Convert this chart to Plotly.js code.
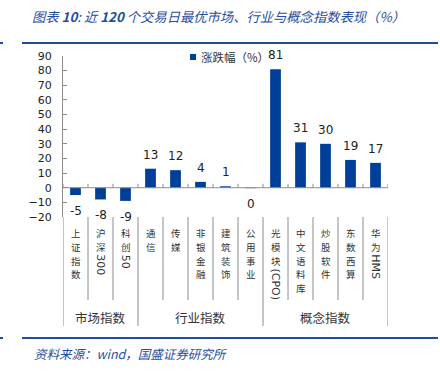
<!DOCTYPE html>
<html>
<head>
<meta charset="utf-8">
<script src="https://cdn.plot.ly/plotly-3.0.1.min.js"></script>
<style>html,body{margin:0;padding:0;background:#fff;}#chart{width:440px;height:376px;}</style>
</head>
<body>
<div id="chart"></div>
<script>
// ---- data ----
const categories = ["上证指数","沪深300","科创50","通信","传媒","非银金融","建筑装饰","公用事业","光模块(CPO)","中文语料库","炒股软件","东数西算","华为HMS"];
const values = [-5, -8, -9, 13, 12, 4, 1, -0.3, 81, 31, 30, 19, 17];
const groupNames = ["市场指数","行业指数","概念指数"];
const groupSizes = [3, 5, 5];
const seriesName = "涨跌幅（%）";
const titleText = "图表 <b>10</b>: 近 <b>120</b> 个交易日最优市场、行业与概念指数表现（%）";
const sourceText = "资料来源：wind，国盛证券研究所";

// ---- layout helpers ----
const L = 63, T = 56, W = 325, H = 161, FW = 440, FH = 376;
const px = x => (x - L) / W;
const py = y => (T + H - y) / H;
const barColor = "#003f98";
const blue = "#1f4e9e";
const grey = "#8c8c8c";
const numFont = "DejaVu Sans, Verdana, sans-serif";
const cjkFont = "Noto Sans CJK SC, sans-serif";

const shapes = [];
const annotations = [];
const n = categories.length;

// zero line and its ticks
shapes.push({type: "line", xref: "x", yref: "y", x0: -0.5, x1: n - 0.5, y0: 0, y1: 0, line: {color: grey, width: 1}});
const groupBounds = [0];
groupSizes.forEach(s => groupBounds.push(groupBounds[groupBounds.length - 1] + s));
for (let i = 0; i <= n; i++) {
  shapes.push({type: "line", xref: "x", yref: "y", x0: i - 0.5, x1: i - 0.5, y0: 0, y1: 2.7, line: {color: grey, width: 1}});
  const isGroup = groupBounds.includes(i);
  shapes.push({type: "line", xref: "x", yref: "paper", x0: i - 0.5, x1: i - 0.5, y0: 0, y1: py(isGroup ? 326 : 300), line: {color: grey, width: 1}});
}

// value labels
values.forEach((v, i) => {
  const txt = String(Math.round(v) || 0);
  annotations.push({x: categories[i], y: v, xref: "x", yref: "y", text: txt, showarrow: false,
    yanchor: "middle", yshift: v > 0 ? 14 : -16, font: {family: numFont, size: 12, color: "#222"}});
});

// category labels (vertical: CJK stacked one per line, latin runs rotated)
const isCJK = c => /[\u3000-\u9fff\uff00-\uffef]/.test(c);
const PITCH = 13.8, CJK_SIZE = 9.5, FIRST = 233;
categories.forEach((lab, i) => {
  const chars = Array.from(lab);
  let top = FIRST - PITCH / 2;
  let k = 0;
  while (k < chars.length) {
    if (isCJK(chars[k])) {
      annotations.push({x: categories[i], xref: "x", yref: "paper", y: py(top + PITCH / 2), text: chars[k],
        showarrow: false, yanchor: "middle", borderpad: 0, borderwidth: 0, font: {family: cjkFont, size: CJK_SIZE, color: "#333"}});
      top += PITCH; k++;
    } else {
      let run = "";
      while (k < chars.length && !isCJK(chars[k])) { run += chars[k]; k++; }
      annotations.push({x: categories[i], xref: "x", yref: "paper", y: py(top + 0.5), text: run, textangle: 90,
        showarrow: false, yanchor: "top", borderpad: 0, borderwidth: 0, font: {family: numFont, size: 11, color: "#333"}});
      top += run.length * 7;
    }
  }
});

// group labels
groupNames.forEach((g, j) => {
  const mid = (groupBounds[j] + groupBounds[j + 1] - 1) / 2;
  annotations.push({x: mid, xref: "x", yref: "paper", y: py(317), text: g, showarrow: false, yanchor: "middle",
    font: {family: cjkFont, size: 12.5, color: "#333"}});
});

// legend
shapes.push({type: "rect", xref: "paper", yref: "paper", x0: px(190), x1: px(196), y0: py(54), y1: py(60), fillcolor: barColor, line: {width: 0}});
annotations.push({xref: "paper", yref: "paper", x: px(200), y: py(57), xanchor: "left", yanchor: "middle", text: seriesName,
  showarrow: false, borderpad: 0, font: {family: cjkFont, size: 11.5, color: "#333"}});

// title rules
[43, 338].forEach(y => {
  shapes.push({type: "line", xref: "paper", yref: "paper", x0: px(22), x1: px(438), y0: py(y), y1: py(y), line: {color: blue, width: 2}});
  shapes.push({type: "line", xref: "paper", yref: "paper", x0: px(0), x1: px(3), y0: py(y), y1: py(y), line: {color: blue, width: 2}});
});

// source
annotations.push({xref: "paper", yref: "paper", x: px(32), y: py(353), xanchor: "left", yanchor: "middle",
  text: "<i>" + sourceText + "</i>", showarrow: false, font: {family: cjkFont, size: 12.5, color: blue}});

const trace = {type: "bar", x: categories, y: values, name: seriesName, marker: {color: barColor}, showlegend: false, hoverinfo: "x+y"};

const layout = {
  width: FW, height: FH, autosize: false,
  margin: {l: L, r: FW - L - W, t: T, b: FH - T - H, pad: 0},
  paper_bgcolor: "#fff", plot_bgcolor: "#fff",
  bargap: 0.57,
  title: {text: "<i>" + titleText + "</i>", xref: "container", yref: "container", x: 32 / FW, xanchor: "left",
    y: 1 - 17 / FH, yanchor: "middle", font: {family: cjkFont, size: 13.3, color: blue}},
  xaxis: {type: "category", range: [-0.5, n - 0.5], showticklabels: false, ticks: "", showline: false, showgrid: false, zeroline: false, fixedrange: true},
  yaxis: {range: [-20, 90], dtick: 10, tick0: 0, showgrid: false, zeroline: false, showline: true, linecolor: grey, linewidth: 1,
    ticks: "inside", ticklen: 4, tickcolor: grey, ticklabelstandoff: 8,
    tickfont: {family: numFont, size: 11, color: "#222"}, fixedrange: true},
  shapes: shapes,
  annotations: annotations
};

Plotly.newPlot("chart", [trace], layout, {displayModeBar: false, staticPlot: true});
</script>
</body>
</html>
